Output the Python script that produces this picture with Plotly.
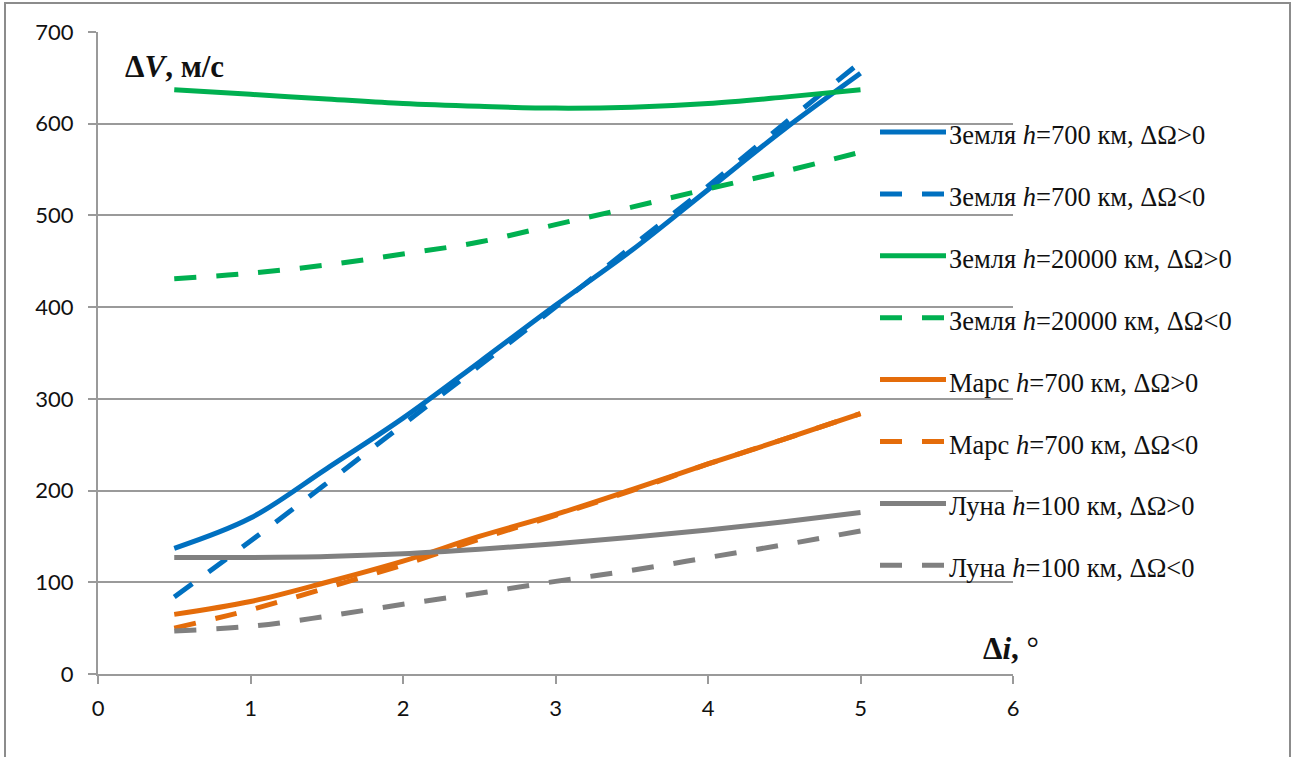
import plotly.graph_objects as go

# Inclination change, degrees
di = [0.5, 1.0, 1.5, 2.0, 2.5, 3.0, 3.5, 4.0, 4.5, 5.0]

# Delta-V, m/s
earth700_pos = [137, 170, 224, 279, 340, 402, 462, 528, 594, 655]
earth700_neg = [84, 145, 208, 272, 336, 400, 466, 532, 600, 667]
earth20000_pos = [637, 632, 627, 622, 619, 617, 618, 622, 629, 637]
earth20000_neg = [431, 437, 446, 458, 471, 490, 509, 529, 548, 569]
mars700_pos = [65, 79, 100, 123, 150, 174, 201, 229, 256, 284]
mars700_neg = [50, 70, 94, 119, 147, 173, 200, 229, 256, 284]
moon100_pos = [127, 127, 128, 131, 136, 142, 149, 157, 166, 176]
moon100_neg = [47, 52, 63, 76, 88, 101, 113, 127, 141, 156]

names = [
    "Земля <i>h</i>=700 км, ΔΩ>0",
    "Земля <i>h</i>=700 км, ΔΩ<0",
    "Земля <i>h</i>=20000 км, ΔΩ>0",
    "Земля <i>h</i>=20000 км, ΔΩ<0",
    "Марс <i>h</i>=700 км, ΔΩ>0",
    "Марс <i>h</i>=700 км, ΔΩ<0",
    "Луна <i>h</i>=100 км, ΔΩ>0",
    "Луна <i>h</i>=100 км, ΔΩ<0",
]
values = [earth700_pos, earth700_neg, earth20000_pos, earth20000_neg,
          mars700_pos, mars700_neg, moon100_pos, moon100_neg]

BLUE, GREEN, ORANGE, GRAY = "#0070C0", "#00B050", "#E46C0A", "#808080"
colors = [BLUE, BLUE, GREEN, GREEN, ORANGE, ORANGE, GRAY, GRAY]
DASH = "22px,20px"
dashes = ["solid", DASH] * 4

W, H = 1293, 757
ML, MR, MT, MB = 98, 280, 32, 83
PW, PH = W - ML - MR, H - MT - MB


def px(x):
    return (x - ML) / PW


def py(y):
    return (H - MB - y) / PH


AXIS_GRAY = "#9a9a9a"
SERIF = "Liberation Serif, Times New Roman, serif"
LINE_W = 5

fig = go.Figure()
for vals, col, dsh in zip(values, colors, dashes):
    fig.add_trace(go.Scatter(
        x=di, y=vals, mode="lines",
        line=dict(color=col, width=LINE_W, dash=dsh, shape="spline", smoothing=1.0),
        showlegend=False, hoverinfo="skip",
    ))

shapes = []
annotations = []

# white legend panel over the gridlines
shapes.append(dict(type="rect", xref="paper", yref="paper",
                   x0=px(865), x1=px(1225), y0=py(600), y1=py(100),
                   fillcolor="white", line=dict(width=0), layer="between"))

# legend rows
row_y0, row_step = 132, 61.9
for i, (name, col, dsh) in enumerate(zip(names, colors, dashes)):
    yy = row_y0 + i * row_step
    shapes.append(dict(type="line", xref="paper", yref="paper",
                       x0=px(880), x1=px(946), y0=py(yy), y1=py(yy),
                       line=dict(color=col, width=LINE_W, dash=dsh), layer="above"))
    annotations.append(dict(xref="paper", yref="paper", x=px(947), y=py(yy + 3),
                            xanchor="left", yanchor="middle", showarrow=False,
                            text=name, font=dict(family=SERIF, size=26.5, color="#111")))

# outer frame
shapes.append(dict(type="rect", xref="paper", yref="paper",
                   x0=px(5), x1=px(1290), y0=py(780), y1=py(3),
                   line=dict(color="#8c8c8c", width=2), fillcolor="rgba(0,0,0,0)",
                   layer="above"))

# axis titles inside the plot area
annotations.append(dict(xref="paper", yref="paper", x=px(123), y=py(66),
                        xanchor="left", yanchor="middle", showarrow=False,
                        text="<b>Δ<i>V</i>, м/с</b>",
                        font=dict(family=SERIF, size=31, color="#111")))
annotations.append(dict(xref="paper", yref="paper", x=px(981), y=py(648),
                        xanchor="left", yanchor="middle", showarrow=False,
                        text="<b>Δ<i>i</i>,</b> °",
                        font=dict(family=SERIF, size=31, color="#111")))

fig.update_layout(
    width=W, height=H,
    margin=dict(l=ML, r=MR, t=MT, b=MB, pad=0),
    paper_bgcolor="white", plot_bgcolor="white",
    shapes=shapes, annotations=annotations,
    font=dict(family="Lato, Open Sans, sans-serif", size=22, color="#111"),
    xaxis=dict(range=[0, 6], dtick=1, tick0=0, showgrid=False, zeroline=False,
               showline=True, linecolor=AXIS_GRAY, linewidth=2,
               ticks="outside", ticklen=8, tickwidth=2, tickcolor=AXIS_GRAY,
               ticklabelstandoff=6),
    yaxis=dict(range=[0, 700], dtick=100, tick0=0, showgrid=True,
               gridcolor=AXIS_GRAY, gridwidth=2, zeroline=False,
               showline=True, linecolor=AXIS_GRAY, linewidth=2,
               ticks="outside", ticklen=8, tickwidth=2, tickcolor=AXIS_GRAY,
               ticklabelstandoff=10),
)

fig.write_html("out.html")
